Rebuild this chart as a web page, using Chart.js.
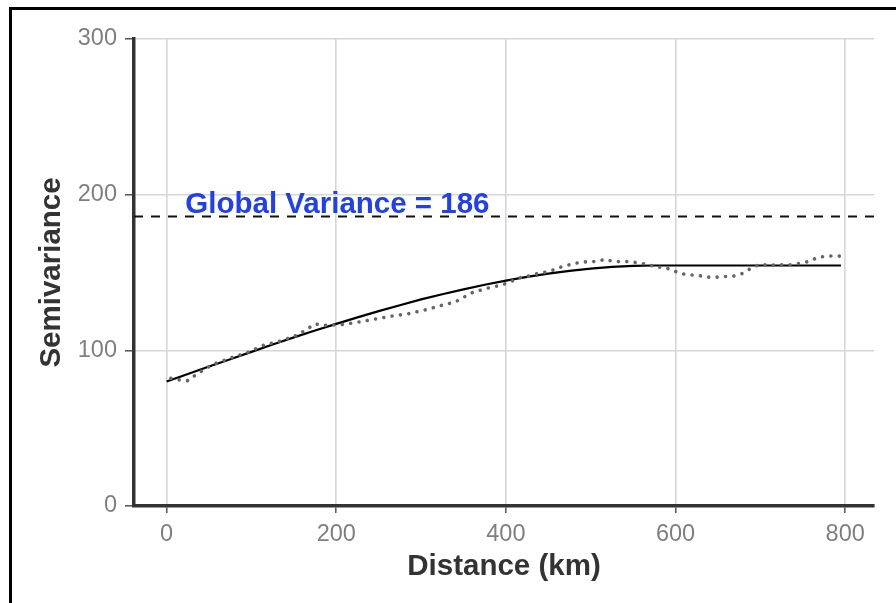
<!DOCTYPE html>
<html>
<head>
<meta charset="utf-8">
<script src="https://cdn.jsdelivr.net/npm/chart.js@4.4.1/dist/chart.umd.min.js"></script>
<style>
html,body{margin:0;padding:0;background:#fff;}
#wrap{position:relative;width:896px;height:603px;}
#frame{position:absolute;left:9px;top:7px;right:0;bottom:0;border-top:3px solid #000;border-left:3px solid #000;pointer-events:none;}
</style>
</head>
<body>
<div id="wrap">
<canvas id="chart" width="896" height="603"></canvas>
<div id="frame"></div>
</div>
<script>

/* DATA */

// empirical semivariogram (dotted)
let distDot = [5,15,25,35,45,55,75,95,115,135,155,165,175,185,205,225,245,265,285,305,325,340,350,360,375,395,405,415,425,435,445,455,465,475,487,497,507,517,527,537,547,557,567,577,587,597,607,617,628,638,648,658,668,678,688,698,708,718,728,738,748,758,768,778,788,798];
let semiDot = [82,81,80.5,84.5,88,91,95,98.5,103.5,106,110,113.5,117,116,116.5,118,120,122,123.5,126,129,131,134,137,139.5,142,144,146.5,147.5,149,150,151.5,153.5,155,156.5,157,157,158.5,157,157,157,156,155.3,153.4,153.4,151.3,149.2,148.5,148,147,147,147.4,147.6,149.2,152.4,155,155,154.7,155,155,156,157.2,159.8,160.4,160.7,160.4];

// fitted model (solid)
let distFit = [0,25,50,75,100,125,150,175,200,225,250,275,300,325,350,375,400,425,450,475,500,525,550,575,600,700,795];
let semiFit = [80,84.8,89.6,94.3,99,103.7,108.3,112.7,117,121.2,125.2,129,132.7,136,139.2,142.1,144.8,147.2,149.3,151.1,152.5,153.6,154.2,154.5,154.5,154.5,154.5];

let globalVariance = 186;
let varianceLabel = "Global Variance = " + globalVariance;

let xTicks = [0,200,400,600,800];
let yTicks = [0,100,200,300];

let xMin = -38.5, xMax = 834;


/* HELPERS */

function pts(xs, ys){
let out = [];
for(let i=0;i<xs.length;i++) out.push({x:xs[i], y:ys[i]});
return out;
}


/* LABEL PLUGIN */

const varLabel = {
id:"varLabel",
afterDatasetsDraw(c){
let ctx = c.ctx;
let xs = c.scales.x, ys = c.scales.y;
ctx.save();
ctx.font = "bold 29.5px 'Liberation Sans', Arial, sans-serif";
ctx.fillStyle = "#1f3ff0";
ctx.textAlign = "left";
ctx.textBaseline = "alphabetic";
ctx.fillText(varianceLabel, xs.getPixelForValue(22), ys.getPixelForValue(188.5));
ctx.restore();
}
};


/* CHART */

let tickFont = {family:"'Liberation Sans', Arial, sans-serif", size:23.5};
let titleFont = {family:"'Liberation Sans', Arial, sans-serif", size:29.5, weight:"bold"};

new Chart(document.getElementById("chart"),{
type:"scatter",
data:{
datasets:[
{
data:pts([xMin,xMax],[globalVariance,globalVariance]),
showLine:true,
borderColor:"#111",
borderWidth:2,
borderDash:[9,8],
pointRadius:0
},
{
data:pts(distDot,semiDot),
showLine:true,
borderColor:"#666",
borderWidth:3.6,
borderDash:[0.01,8.4],
borderCapStyle:"round",
pointRadius:0
},
{
data:pts(distFit,semiFit),
showLine:true,
borderColor:"#000",
borderWidth:2.2,
pointRadius:0
}
]
},
options:{
responsive:false,
animation:false,
layout:{padding:{top:39,right:22,bottom:0,left:0}},
plugins:{legend:{display:false},tooltip:{enabled:false}},
scales:{
x:{
type:"linear",
min:xMin,
max:xMax,
afterFit:(s)=>{ s.height = 97; },
afterBuildTicks:(s)=>{ s.ticks = xTicks.map(v=>({value:v})); },
ticks:{color:"#7f7f7f", font:tickFont, padding:7, maxRotation:0},
grid:{color:"#d6d6d6", lineWidth:1.6, tickColor:"#555", tickLength:7, tickWidth:1.5},
border:{color:"#333", width:3.5},
title:{display:true, text:"Distance (km)", color:"#333", font:titleFont, padding:{top:0,bottom:18}}
},
y:{
type:"linear",
min:0,
max:300,
afterFit:(s)=>{ s.width = 134; },
afterBuildTicks:(s)=>{ s.ticks = yTicks.map(v=>({value:v})); },
ticks:{color:"#7f7f7f", font:tickFont, padding:8},
grid:{color:"#d6d6d6", lineWidth:1.6, tickColor:"#555", tickLength:9, tickWidth:1.5},
border:{color:"#333", width:3.5},
title:{display:true, text:"Semivariance", color:"#333", font:titleFont, padding:{top:34,bottom:0}}
}
}
},
plugins:[varLabel]
});

</script>
</body>
</html>
